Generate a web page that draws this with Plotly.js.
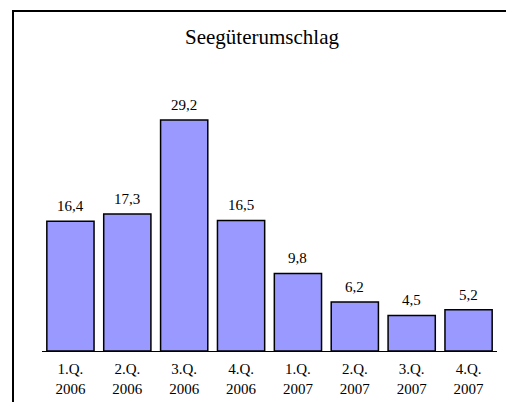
<!DOCTYPE html>
<html>
<head>
<meta charset="utf-8">
<script src="https://cdn.plot.ly/plotly-3.0.1.min.js"></script>
<style>
  html, body { margin: 0; padding: 0; background: #fff; }
  #chart { width: 506px; height: 402px; }
</style>
</head>
<body>
<div id="chart"></div>
<script>
const categories = ["1.Q.<br>2006", "2.Q.<br>2006", "3.Q.<br>2006", "4.Q.<br>2006",
                    "1.Q.<br>2007", "2.Q.<br>2007", "3.Q.<br>2007", "4.Q.<br>2007"];
const values = [16.4, 17.3, 29.2, 16.5, 9.8, 6.2, 4.5, 5.2];
const labels = values.map(v => v.toFixed(1).replace(".", ","));
const chartTitle = "Seegüterumschlag";

const serif = "'Liberation Serif', 'Times New Roman', serif";

const trace = {
  type: "bar",
  x: categories,
  y: values,
  marker: { color: "#9999FF", line: { color: "#000000", width: 1.5 } },
  hoverinfo: "none"
};

const annotations = categories.map((c, i) => ({
  x: c, y: values[i], xref: "x", yref: "y",
  text: labels[i], showarrow: false,
  yanchor: "bottom", yshift: 5,
  font: { family: serif, size: 15, color: "#000" }
}));

const layout = {
  width: 506, height: 402,
  margin: { l: 42, r: 9, t: 74, b: 51 },
  paper_bgcolor: "#ffffff", plot_bgcolor: "#ffffff",
  showlegend: false,
  bargap: 0.17,
  title: {
    text: chartTitle,
    font: { family: serif, size: 21, color: "#000" },
    xref: "paper", x: (262 - 42) / 455, xanchor: "center",
    yref: "container", y: 1 - 37 / 402, yanchor: "middle"
  },
  xaxis: {
    type: "category",
    showgrid: false, zeroline: false,
    showline: true, linecolor: "#000", linewidth: 1,
    ticks: "", ticklen: 0,
    ticklabelstandoff: 4,
    tickfont: { family: serif, size: 15, color: "#000" },
    fixedrange: true
  },
  yaxis: {
    range: [0, 35],
    visible: false,
    showgrid: false, zeroline: false,
    fixedrange: true
  },
  annotations: annotations,
  shapes: [{
    type: "path", xref: "paper", yref: "paper",
    path: "M " + ((13 - 42) / 455) + " " + ((351 - 420) / 277) +
          " L " + ((13 - 42) / 455) + " " + ((351 - 11) / 277) +
          " L " + ((530 - 42) / 455) + " " + ((351 - 11) / 277),
    line: { color: "#000", width: 2 }
  }]
};

Plotly.newPlot("chart", [trace], layout, { staticPlot: true, displayModeBar: false });
</script>
</body>
</html>
